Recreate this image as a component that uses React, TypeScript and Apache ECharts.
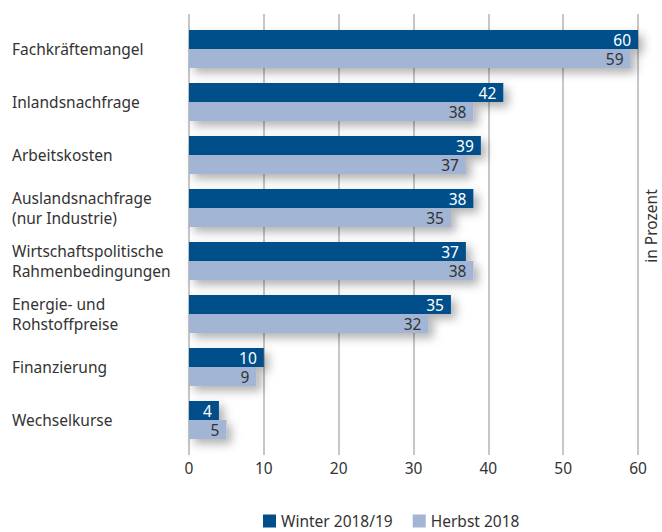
import React, { useEffect, useRef } from "react";
import * as echarts from "echarts";

const categories = [
  "Fachkräftemangel",
  "Inlandsnachfrage",
  "Arbeitskosten",
  "Auslandsnachfrage\n(nur Industrie)",
  "Wirtschaftspolitische\nRahmenbedingungen",
  "Energie- und\nRohstoffpreise",
  "Finanzierung",
  "Wechselkurse",
];
const winter = [60, 42, 39, 38, 37, 35, 10, 4];
const herbst = [59, 38, 37, 35, 38, 32, 9, 5];
const seriesNames = ["Winter 2018/19", "Herbst 2018"];
const xTicks = { min: 0, max: 60, interval: 10 };
const unitLabel = "in Prozent";

const DARK = "#004f8b";
const LIGHT = "#a2b5d5";
const TEXT = "#333333";
const FONT = "Noto Sans";
const FS = 15.5;

export default function App() {
  const ref = useRef<HTMLDivElement>(null);
  useEffect(() => {
    document.body.style.margin = "0";
    const chart = echarts.init(ref.current!, undefined, { renderer: "svg" });
    const shadow = {
      shadowBlur: 10,
      shadowOffsetX: 5,
      shadowOffsetY: 5,
      shadowColor: "rgba(0,0,0,0.3)",
    };
    chart.setOption({
      animation: false,
      textStyle: { fontFamily: FONT },
      grid: [
        { left: 189, right: 24, top: 14, bottom: 77 },
        { left: 189, right: 24, top: 22.5, bottom: 85.5 },
      ],
      xAxis: [
        {
          gridIndex: 0,
          type: "value",
          ...xTicks,
          axisLine: { show: false },
          axisTick: { show: false },
          splitLine: { show: true, lineStyle: { color: "#b4b4b4", width: 1.5 } },
          axisLabel: { color: TEXT, fontSize: FS, fontFamily: FONT, margin: 5 },
        },
        {
          gridIndex: 1,
          type: "value",
          ...xTicks,
          show: false,
        },
      ],
      yAxis: [
        { gridIndex: 0, type: "value", min: 0, max: 1, show: false },
        {
          gridIndex: 1,
          type: "category",
          data: categories,
          inverse: true,
          axisLine: { show: false },
          axisTick: { show: false },
          splitLine: { show: false },
          axisLabel: {
            align: "left",
            margin: 177,
            color: TEXT,
            fontSize: FS,
            lineHeight: 19.5,
            fontFamily: FONT,
          },
        },
      ],
      legend: {
        top: 512,
        left: 263,
        padding: 0,
        itemWidth: 13,
        itemHeight: 13,
        itemGap: 20,
        icon: "rect",
        textStyle: { color: TEXT, fontSize: FS, fontFamily: FONT, lineHeight: 18 },
        data: seriesNames,
      },
      graphic: [
        {
          type: "text",
          x: 651,
          y: 226,
          rotation: Math.PI / 2,
          style: {
            text: unitLabel,
            fill: TEXT,
            fontSize: FS,
            fontFamily: FONT,
            align: "center",
            verticalAlign: "middle",
          },
        },
      ],
      series: [
        { type: "scatter", xAxisIndex: 0, yAxisIndex: 0, data: [], silent: true },
        {
          name: seriesNames[0],
          type: "bar",
          xAxisIndex: 1,
          yAxisIndex: 1,
          data: winter,
          barWidth: 19,
          barGap: "0%",
          itemStyle: { color: DARK, ...shadow },
          label: {
            show: true,
            position: "insideRight",
            distance: 7,
            color: "#ffffff",
            fontSize: FS,
            fontFamily: FONT,
          },
        },
        {
          name: seriesNames[1],
          type: "bar",
          xAxisIndex: 1,
          yAxisIndex: 1,
          data: herbst,
          barWidth: 19,
          barGap: "0%",
          itemStyle: { color: LIGHT, ...shadow },
          label: {
            show: true,
            position: "insideRight",
            distance: 7,
            color: TEXT,
            fontSize: FS,
            fontFamily: FONT,
          },
        },
      ],
    });
    return () => chart.dispose();
  }, []);
  return <div ref={ref} style={{ width: 662, height: 532 }} />;
}
